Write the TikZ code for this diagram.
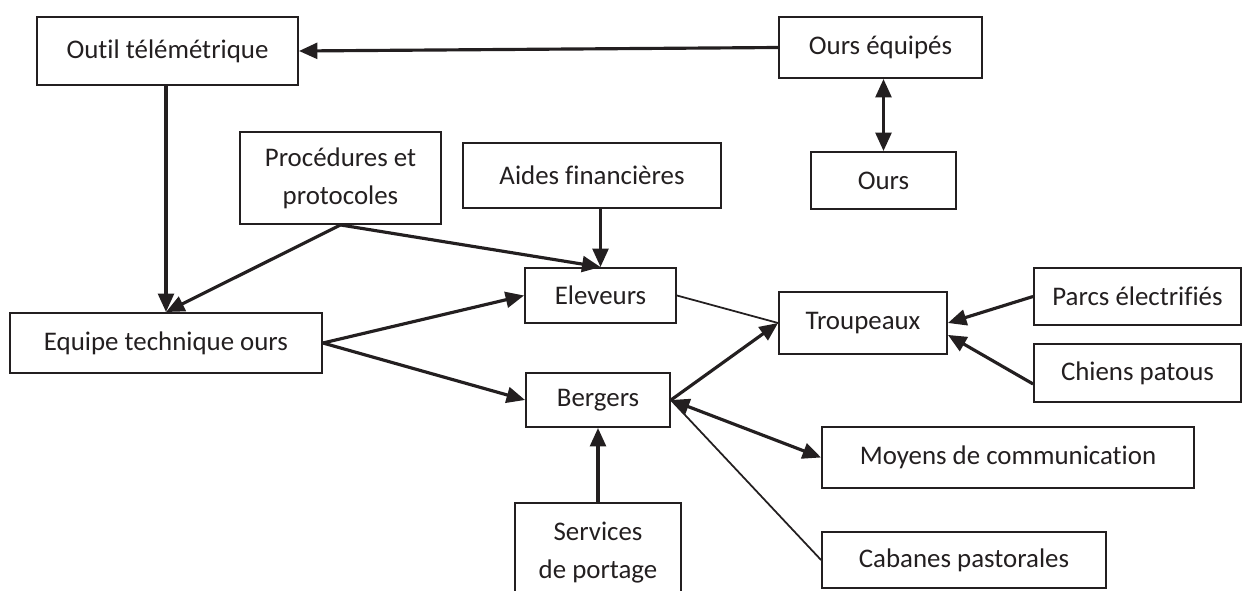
\documentclass[tikz,border=0pt]{standalone}
\usepackage[rgb]{xcolor}
\usepackage{fontspec}
\setmainfont{Carlito}[Ligatures={NoCommon}]
\usepackage{tikz}
\usetikzlibrary{arrows.meta}
\definecolor{ink}{HTML}{231F20}

\begin{document}
\begin{tikzpicture}[x=0.02cm, y=-0.02cm,
  box/.style={draw=ink, line width=1.1pt, inner sep=0pt, align=center,
    text=ink, font=\fontsize{15.3}{21.6}\selectfont},
  link/.style={draw=ink, line width=1.8pt, -{Triangle[length=10.5pt,width=9pt]}},
  twoway/.style={draw=ink, line width=1.8pt, {Triangle[length=10.5pt,width=9pt]}-{Triangle[length=10.5pt,width=9pt]}},
  plain/.style={draw=ink, line width=1pt}]

\useasboundingbox (0,0) rectangle (1244,591);
\clip (0,0) rectangle (1244,591);

% bears and tracking
\path
(167.5,51)  node[box, minimum width=5.22cm, minimum height=1.36cm] (outil) {Outil télémétrique}
(880.5,47.5) node[box, minimum width=4.06cm, minimum height=1.22cm] (equipes) {Ours équipés}
(883.5,180.5) node[box, minimum width=2.9cm, minimum height=1.14cm] (ours) {Ours};

% actors
\path
(340.5,178) node[box, minimum width=4.02cm, minimum height=1.84cm] (proc) {Procédures et\\protocoles}
(592,175.5) node[box, minimum width=5.16cm, minimum height=1.3cm] (aides) {Aides financières}
(166,343)   node[box, minimum width=6.24cm, minimum height=1.2cm] (equipe) {Equipe technique ours}
(600.5,295.5) node[box, minimum width=3.02cm, minimum height=1.1cm] (eleveurs) {Eleveurs}
(598,400)   node[box, minimum width=2.88cm, minimum height=1.08cm] (bergers) {Bergers}
(598,553)   node[box, minimum width=3.32cm, minimum height=2cm] (portage) {Services\\de portage};

% herds and protection
\path
(863,323)    node[box, minimum width=3.36cm, minimum height=1.24cm] (troupeaux) {Troupeaux}
(1137.5,296.5) node[box, minimum width=4.14cm, minimum height=1.14cm] (parcs) {Parcs électrifiés}
(1137.5,373) node[box, minimum width=4.14cm, minimum height=1.16cm] (chiens) {Chiens patous}
(1008,457.5) node[box, minimum width=7.44cm, minimum height=1.22cm] (moyens) {Moyens de communication}
(964,560)    node[box, minimum width=5.68cm, minimum height=1.12cm] (cabanes) {Cabanes pastorales};

\draw[link] (equipes.west) -- (outil.east);
\draw[twoway] (equipes.south -| ours.north) -- (ours.north);
\draw[link] (outil.south -| equipe.north) -- (equipe.north);
\draw[link] (proc.south) -- (equipe.north);
\draw[link] (proc.south) -- (eleveurs.north);
\draw[link] (eleveurs.north |- aides.south) -- (eleveurs.north);
\draw[link] (equipe.east) -- (eleveurs.west);
\draw[link] (equipe.east) -- (bergers.west);

\draw[plain] (eleveurs.east) -- (troupeaux.west);
\draw[link] (bergers.east) -- (troupeaux.west);
\draw[link] (parcs.west) -- (troupeaux.east);
\draw[link] (chiens.186) -- (troupeaux.-8);
\draw[twoway] (bergers.east) -- (moyens.west);
\draw[plain] (cabanes.west) -- (bergers.east);
\draw[link] (portage.north) -- (bergers.south);

\end{tikzpicture}
\end{document}
